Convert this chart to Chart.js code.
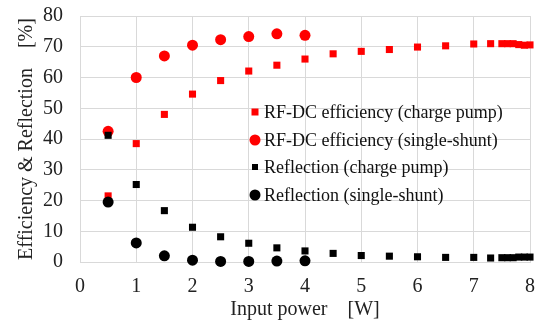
<!DOCTYPE html>
<html>
<head>
<meta charset="utf-8">
<script src="https://cdn.jsdelivr.net/npm/chart.js@4"></script>
<style>
  html, body { margin: 0; padding: 0; background: #fff; }
  #wrap { width: 536px; height: 322px; }
</style>
</head>
<body>
<div id="wrap"><canvas id="effChart" width="536" height="322"></canvas></div>
<script>
// Input power [W]
const powerCharge = [0.5, 1, 1.5, 2, 2.5, 3, 3.5, 4, 4.5, 5, 5.5, 6, 6.5, 7, 7.3, 7.5, 7.6, 7.7, 7.8, 7.9, 8.0];
const powerShunt = [0.5, 1, 1.5, 2, 2.5, 3, 3.5, 4];

// values [%]
const effCharge = [21.5, 38.5, 48, 54.6, 59, 62.1, 64, 66, 67.7, 68.5, 69.1, 69.9, 70.3, 70.9, 71, 71, 71, 71, 70.7, 70.5, 70.6];
const effShunt = [42.5, 60, 67, 70.5, 72.3, 73.3, 74.2, 73.7];
const reflCharge = [41.2, 25.2, 16.7, 11.3, 8.2, 6.1, 4.6, 3.6, 2.8, 2.1, 1.9, 1.7, 1.5, 1.5, 1.3, 1.4, 1.4, 1.4, 1.6, 1.6, 1.6];
const reflShunt = [19.5, 6.2, 2.0, 0.6, 0.2, 0.2, 0.3, 0.4];

const seriesLabels = [
    'RF-DC efficiency (charge pump)',
    'RF-DC efficiency (single-shunt)',
    'Reflection (charge pump)',
    'Reflection (single-shunt)'
];

const toPoints = (xs, ys) => xs.map((x, i) => ({ x: x, y: ys[i] }));

// legend drawn inside the plot, like the original
const insideLegend = {
    id: 'insideLegend',
    afterDatasetsDraw(chart) {
        const ctx = chart.ctx;
        const area = chart.chartArea;
        const mx = area.left + 175;
        const tx = area.left + 184;
        const rows = [112, 140, 167, 195];
        const legendSize = [3.5, 5.5, 3, 5.5];
        ctx.save();
        ctx.font = '18px "Liberation Serif", "Times New Roman", serif';
        ctx.textBaseline = 'middle';
        chart.data.datasets.forEach((ds, i) => {
            const y = rows[i];
            const s = legendSize[i];
            ctx.fillStyle = ds.backgroundColor;
            ctx.beginPath();
            if (ds.pointStyle === 'rect') {
                ctx.rect(mx - s, y - s, 2 * s, 2 * s);
            } else {
                ctx.arc(mx, y, s, 0, Math.PI * 2);
            }
            ctx.fill();
            ctx.fillStyle = '#111';
            ctx.fillText(ds.label, tx, y + 1);
        });
        ctx.restore();
    }
};

const serif = '"Liberation Serif", "Times New Roman", serif';
const gridColor = '#d9d9d9';
const textColor = '#222';

new Chart(document.getElementById('effChart'), {
    type: 'scatter',
    data: {
        datasets: [
            {
                label: seriesLabels[0],
                data: toPoints(powerCharge, effCharge),
                pointStyle: 'rect',
                pointRadius: 5,
                backgroundColor: '#ff0000',
                borderWidth: 0,
                order: 4
            },
            {
                label: seriesLabels[1],
                data: toPoints(powerShunt, effShunt),
                pointStyle: 'circle',
                pointRadius: 5.5,
                backgroundColor: '#ff0000',
                borderWidth: 0,
                order: 3
            },
            {
                label: seriesLabels[2],
                data: toPoints(powerCharge, reflCharge),
                pointStyle: 'rect',
                pointRadius: 5,
                backgroundColor: '#000000',
                borderWidth: 0,
                order: 2
            },
            {
                label: seriesLabels[3],
                data: toPoints(powerShunt, reflShunt),
                pointStyle: 'circle',
                pointRadius: 5.5,
                backgroundColor: '#000000',
                borderWidth: 0,
                order: 1
            }
        ]
    },
    options: {
        responsive: false,
        animation: false,
        layout: { padding: { top: 16, right: 6, left: 0, bottom: 0 } },
        plugins: {
            legend: { display: false },
            tooltip: { enabled: false }
        },
        elements: { point: { hoverRadius: 5.5 } },
        clip: false,
        scales: {
            x: {
                type: 'linear',
                min: 0,
                max: 8,
                ticks: {
                    stepSize: 1,
                    padding: 0,
                    color: textColor,
                    font: { family: serif, size: 20 }
                },
                grid: { color: gridColor, lineWidth: 1, drawTicks: true, tickLength: 13, tickColor: 'rgba(0,0,0,0)' },
                border: { color: gridColor },
                title: {
                    display: true,
                    text: 'Input power    [W]',
                    color: textColor,
                    font: { family: serif, size: 20 },
                    padding: { top: 0, bottom: 0 }
                },
                afterFit(scale) { scale.height = 60; }
            },
            y: {
                min: 0,
                max: 80,
                ticks: {
                    stepSize: 10,
                    padding: 0,
                    color: textColor,
                    font: { family: serif, size: 20 }
                },
                grid: { color: gridColor, lineWidth: 1, drawTicks: true, tickLength: 17, tickColor: 'rgba(0,0,0,0)' },
                border: { color: gridColor },
                title: {
                    display: true,
                    text: 'Efficiency & Reflection    [%]',
                    color: textColor,
                    font: { family: serif, size: 20 },
                    padding: { top: 15, bottom: 0 }
                },
                afterFit(scale) { scale.width = 80; }
            }
        }
    },
    plugins: [insideLegend]
});
</script>
</body>
</html>
